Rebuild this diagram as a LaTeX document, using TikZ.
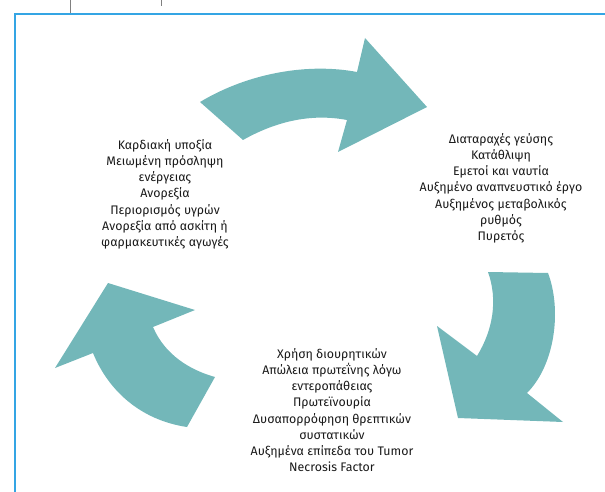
\documentclass[tikz,border=0pt]{standalone}
\usepackage{fontspec}
\setmainfont{Fira Sans}
\usepackage{xcolor}
\usetikzlibrary{positioning}
\definecolor{tealarrow}{RGB}{115,183,185}
\definecolor{framblue}{RGB}{52,165,228}

\begin{document}
\begin{tikzpicture}[x=1pt, y=-1pt,
    causes/.style={align=center, font=\fontsize{12.4}{16.2}\selectfont, text=black!90, inner sep=0pt},
    bigarrow/.style={fill=tealarrow, draw=none}]
    \useasboundingbox (0,0) rectangle (605,492);

    % Vẽ khung
    \draw[framblue, line width=2pt] (15,492) -- (15,14) -- (606,14);
    \draw[gray, line width=1pt] (70,0) -- (70,13);
    \draw[gray, line width=1pt] (161,0) -- (161,6);

    % Vẽ các mũi tên
    \fill[bigarrow] (200,102) .. controls (250,72) and (310,63) .. (357,72)
        -- (365,38) -- (427,107) -- (338,152) -- (347,120)
        .. controls (310,113) and (275,122) .. (243,140) -- cycle;
    \fill[bigarrow] (488,272) -- (548,273) .. controls (562,310) and (555,365) .. (527,393)
        -- (563,422) -- (458,418) -- (437,326) -- (477,356)
        .. controls (493,330) and (498,300) .. (488,272) -- cycle;
    \fill[bigarrow] (108,283) -- (195,310) -- (153,327)
        .. controls (165,355) and (190,370) .. (215,377) -- (187,427)
        .. controls (140,420) and (108,390) .. (93,353) -- (55,368) -- cycle;

    % Các nhóm nguyên nhân
    \node[causes, anchor=north] (leftcauses) at (165,139) {Καρδιακή υποξία\\Μειωμένη πρόσληψη\\ενέργειας\\Ανορεξία\\Περιορισμός υγρών\\Ανορεξία από ασκίτη ή\\φαρμακευτικές αγωγές};
    \node[causes, anchor=north] (rightcauses) at (501,133) {Διαταραχές γεύσης\\Κατάθλιψη\\Εμετοί και ναυτία\\Αυξημένο αναπνευστικό έργο\\Αυξημένος μεταβολικός\\ρυθμός\\Πυρετός};
    \node[causes, anchor=north] (bottomcauses) at (332,348) {Χρήση διουρητικών\\Απώλεια πρωτεΐνης λόγω\\εντεροπάθειας\\Πρωτεϊνουρία\\Δυσαπορρόφηση θρεπτικών\\συστατικών\\Αυξημένα επίπεδα του Tumor\\Necrosis Factor};
\end{tikzpicture}
\end{document}
